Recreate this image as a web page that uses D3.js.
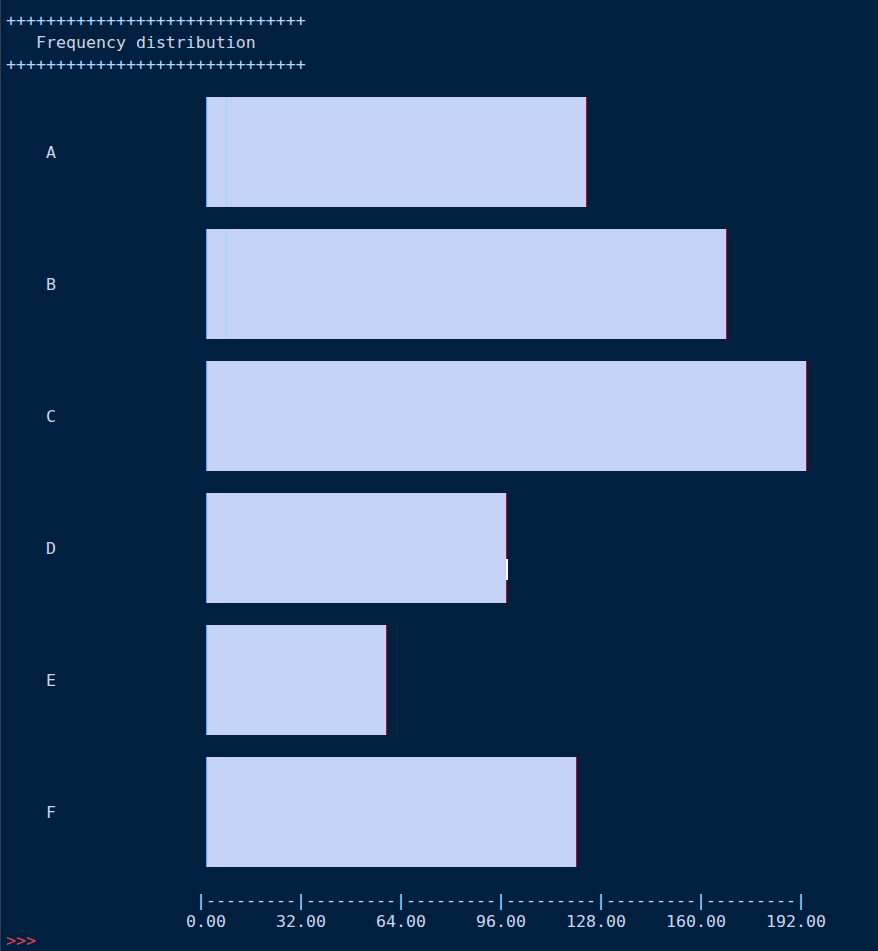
<!DOCTYPE html>
<html>
<head>
<meta charset="utf-8">
<script src="https://cdn.jsdelivr.net/npm/d3@7"></script>
<style>
  html, body { margin: 0; padding: 0; background: #01203f; }
  svg { display: block; }
  text { font-family: "DejaVu Sans Mono", "Liberation Mono", monospace; font-size: 16.6px; fill: #c6d6f2; }
</style>
</head>
<body>
<script>
const categories = ["A", "B", "C", "D", "E", "F"];
const values = [121.6, 166.4, 192, 96, 57.6, 118.4];
const tickValues = [0, 32, 64, 96, 128, 160, 192];
const tickLabels = ["0.00", "32.00", "64.00", "96.00", "128.00", "160.00", "192.00"];
const title = "Frequency distribution";

const W = 878, H = 951;
const svg = d3.select("body").append("svg").attr("width", W).attr("height", H);
svg.append("rect").attr("width", W).attr("height", H).attr("fill", "#01203f");
svg.append("rect").attr("x", 0).attr("y", 0).attr("width", 1).attr("height", H).attr("fill", "#2a3d58");

const x = d3.scaleLinear().domain([0, 192]).range([206, 806]);
const y = d3.scaleBand().domain(categories).range([97, 867]).paddingInner(1/6).paddingOuter(0);

// header
const plusLine = "+".repeat(30);
svg.append("text").attr("x", 6).attr("y", 26).text(plusLine);
svg.append("text").attr("x", 36).attr("y", 48).text(title);
svg.append("text").attr("x", 6).attr("y", 70).text(plusLine);

// bars
const g = svg.append("g");
const data = categories.map((c, i) => ({ c, v: values[i] }));
g.selectAll("rect.bar").data(data).join("rect").attr("class", "bar")
  .attr("x", x(0)).attr("y", d => y(d.c))
  .attr("width", d => x(d.v) - x(0)).attr("height", y.bandwidth())
  .attr("fill", "#c4d2f8");
g.selectAll("rect.ledge").data(data).join("rect").attr("class", "ledge")
  .attr("x", x(0)).attr("y", d => y(d.c)).attr("width", 1).attr("height", y.bandwidth())
  .attr("fill", "#6f9ef2");
g.selectAll("rect.redge").data(data).join("rect").attr("class", "redge")
  .attr("x", d => x(d.v)).attr("y", d => y(d.c)).attr("width", 1).attr("height", y.bandwidth())
  .attr("fill", "#7a2b4a");
// faint inner lines in A and B
g.selectAll("rect.inner").data(data.slice(0, 2)).join("rect").attr("class", "inner")
  .attr("x", x(6.4)).attr("y", d => y(d.c)).attr("width", 1).attr("height", y.bandwidth())
  .attr("fill", "#b0d0f4");
// cursor notch on D
const dD = data[3];
g.append("rect").attr("x", x(dD.v)).attr("y", y(dD.c) + 66).attr("width", 2).attr("height", 21).attr("fill", "#ffffff");

// category labels
svg.selectAll("text.cat").data(categories).join("text").attr("class", "cat")
  .attr("x", 51).attr("y", d => y(d) + y.bandwidth() / 2 + 6)
  .attr("text-anchor", "middle").text(d => d);

// axis
const axisG = svg.append("g");
axisG.selectAll("text.tick").data(tickValues).join("text").attr("class", "tick")
  .attr("x", d => x(d) - 5).attr("y", 906).attr("text-anchor", "middle").text("|");
axisG.selectAll("text.dash").data(tickValues.slice(1)).join("text").attr("class", "dash")
  .attr("x", (d, i) => (x(d) + x(tickValues[i])) / 2 - 5).attr("y", 906)
  .attr("text-anchor", "middle").text("-".repeat(9));
axisG.selectAll("text.lab").data(tickValues).join("text").attr("class", "lab")
  .attr("x", d => x(d) + 20).attr("y", 927).attr("text-anchor", "end")
  .text((d, i) => tickLabels[i]);

// prompt
svg.append("text").attr("x", 6).attr("y", 946).style("fill", "#e5404e").text(">>>");
</script>
</body>
</html>
